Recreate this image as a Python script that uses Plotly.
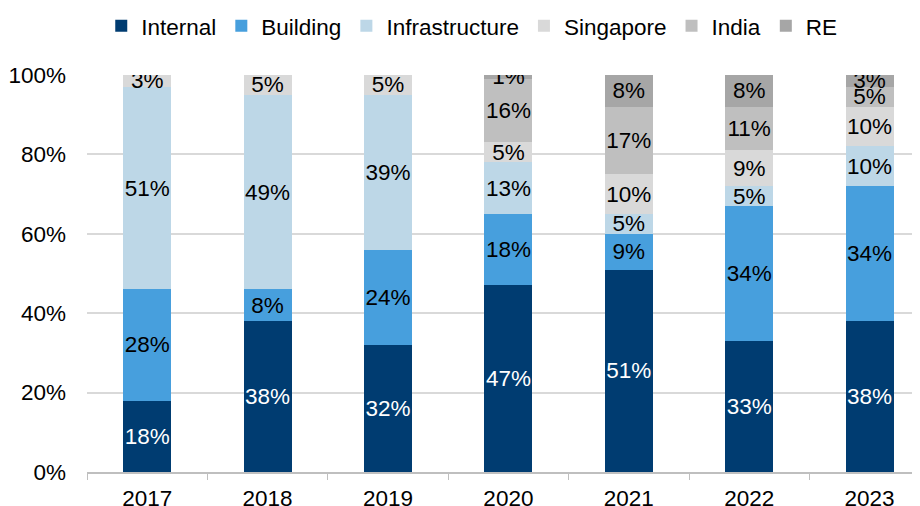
import plotly.graph_objects as go

years = ["2017", "2018", "2019", "2020", "2021", "2022", "2023"]
internal = [18, 38, 32, 47, 51, 33, 38]
building = [28, 8, 24, 18, 9, 34, 34]
infrastructure = [51, 49, 39, 13, 5, 5, 10]
singapore = [3, 5, 5, 5, 10, 9, 10]
india = [0, 0, 0, 16, 17, 11, 5]
re_ = [0, 0, 0, 1, 8, 8, 3]

series = [
    ("Internal", internal, "#003C71", "white"),
    ("Building", building, "#479FDD", "black"),
    ("Infrastructure", infrastructure, "#BDD7E7", "black"),
    ("Singapore", singapore, "#D9D9D9", "black"),
    ("India", india, "#BFBFBF", "black"),
    ("RE", re_, "#A6A6A6", "black"),
]

FONT = "Liberation Sans, Arial, sans-serif"
FS = 22.5
fig = go.Figure()
for name, vals, color, tcolor in series:
    fig.add_trace(go.Bar(
        name=name, x=years, y=[v / 100 for v in vals],
        marker=dict(color=color, line=dict(width=0)),
        text=[f"{v}%" if v > 0 else "" for v in vals],
        textposition="inside", insidetextanchor="middle",
        textangle=0, constraintext="none",
        textfont=dict(color=tcolor, size=FS, family=FONT),
        hoverinfo="skip",
    ))

fig.update_layout(
    barmode="stack", bargap=0.6,
    width=920, height=506,
    margin=dict(l=79, r=0, t=67, b=42, autoexpand=False),
    paper_bgcolor="white", plot_bgcolor="white",
    font=dict(family=FONT, size=FS, color="black"),
    legend=dict(orientation="h", x=0.4575, xanchor="center", y=1.123, yanchor="middle",
                font=dict(size=FS), traceorder="normal", itemwidth=30,
                bgcolor="rgba(0,0,0,0)"),
)
fig.update_xaxes(
    range=[-0.5, 6.485], showline=True, linecolor="#BFBFBF", linewidth=1.5,
    ticks="outside", tickson="boundaries", ticklen=6, tickcolor="#BFBFBF",
    showgrid=False, tickfont=dict(size=FS), ticklabelstandoff=5,
)
fig.update_yaxes(
    range=[0, 1], tickvals=[0, 0.2, 0.4, 0.6, 0.8, 1.0],
    ticktext=["0%", "20%", "40%", "60%", "80%", "100%"],
    showgrid=True, gridcolor="#D9D9D9", gridwidth=1.5, zeroline=False,
    showline=False, ticks="", ticklabelstandoff=20, tickfont=dict(size=FS),
)
fig.write_html("out.html")
